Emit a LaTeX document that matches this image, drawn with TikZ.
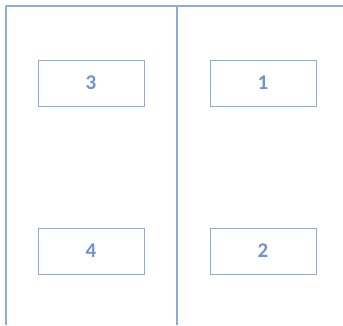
\documentclass[tikz,border=0pt]{standalone}
\usepackage{fontspec}
\setmainfont{Carlito}
\definecolor{ln}{HTML}{8EAADB}
\definecolor{tx}{HTML}{6E93CD}
\begin{document}
\begin{tikzpicture}[x=1pt,y=-1pt,
  cell/.style={draw=ln,line width=1pt,minimum width=106pt,minimum height=46pt,inner sep=0pt,text=tx,font=\fontsize{21}{21}\selectfont\bfseries},
  rule/.style={draw=ln,line width=1.5pt}]
\useasboundingbox (0,0) rectangle (343,325);
\coordinate (tl) at (6,6);
\coordinate (tr) at (343,6);
\coordinate (bl) at (6,325);
\coordinate (tm) at (177,6);
\coordinate (bm) at (177,325);
\draw[rule] (tl) -- (tr);
\draw[rule] (tl) -- (bl);
\draw[rule] (tm) -- (bm);
\node[cell] (n3) at (91,83) {\raisebox{-1pt}{3}};
\node[cell] (n1) at (263,83) {\raisebox{-1pt}{1}};
\node[cell] (n4) at (91,251) {\raisebox{-1pt}{4}};
\node[cell] (n2) at (263,251) {\raisebox{-1pt}{2}};
\end{tikzpicture}
\end{document}
